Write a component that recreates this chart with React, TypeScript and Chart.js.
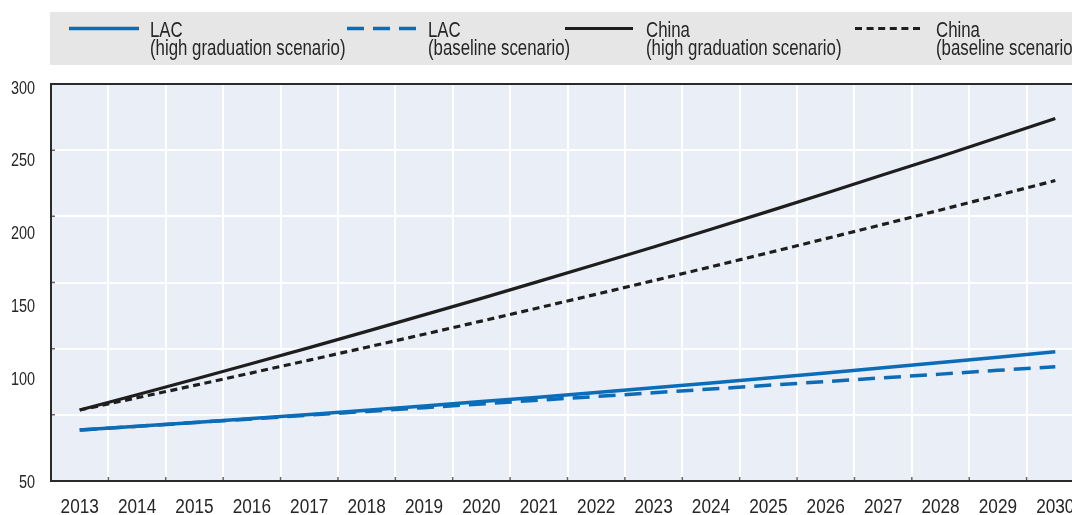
import React, { useEffect, useRef } from "react";
import { Chart, registerables } from "chart.js";

Chart.register(...registerables);

// ---------- data ----------
const years = [
  "2013", "2014", "2015", "2016", "2017", "2018", "2019", "2020", "2021",
  "2022", "2023", "2024", "2025", "2026", "2027", "2028", "2029", "2030",
];

const lacHigh = [
  82.1, 84.5, 86.9, 89.4, 91.9, 94.5, 97.2, 100.0, 102.8,
  105.7, 108.7, 111.7, 114.8, 118.0, 121.3, 124.6, 128.0, 131.4,
];
const lacBaseline = [
  82.1, 84.4, 86.8, 89.1, 91.5, 93.8, 96.2, 98.5, 100.9,
  103.2, 105.6, 107.9, 110.3, 112.6, 115.0, 117.3, 119.7, 122.0,
];
const chinaHigh = [
  94.7, 104.3, 114.1, 124.0, 134.0, 144.2, 154.6, 165.0, 175.7,
  186.5, 197.4, 208.5, 219.8, 231.2, 242.8, 254.4, 266.3, 278.3,
];
const chinaBaseline = [
  94.7, 102.4, 110.2, 118.1, 126.1, 134.2, 142.4, 150.7, 159.1,
  167.6, 176.2, 184.9, 193.7, 202.6, 211.6, 220.7, 229.9, 239.2,
];

const seriesNames = ["LAC", "LAC", "China", "China"];
const seriesScenarios = [
  "(high graduation scenario)",
  "(baseline scenario)",
  "(high graduation scenario)",
  "(baseline scenario)",
];

// y axis: gridline values and (as printed) tick label values
const yGridValues = [50, 91.67, 133.33, 175, 216.67, 258.33, 300];
const yTickTexts = ["50", "100", "150", "200", "250", "300"];
const yTickValues = [50, 114.9, 160.8, 206.8, 252.5, 298.1];

// ---------- styles ----------
const FONT = "'Liberation Sans', Arial, sans-serif";
const BLUE = "#0B6CB8";
const BLACK = "#1E1E1E";
const PLOT_BG = "#E9EEF7";
const LEGEND_BG = "#E6E6E6";
const TEXT = "#262626";

// narrow text: regular sans drawn with a horizontal squeeze
function narrowText(ctx: any, text: string, x: number, y: number, size: number, sx: number, align: string) {
  ctx.save();
  ctx.font = `${size}px ${FONT}`;
  ctx.fillStyle = TEXT;
  ctx.textAlign = align;
  ctx.textBaseline = "alphabetic";
  ctx.translate(x, y);
  ctx.scale(sx, 1);
  ctx.fillText(text, 0, 0);
  ctx.restore();
}

const frameAndBgPlugin = {
  id: "frameAndBg",
  beforeDraw(chart: any) {
    const { ctx, chartArea: a } = chart;
    ctx.save();
    ctx.fillStyle = PLOT_BG;
    ctx.fillRect(a.left, a.top, a.right - a.left, a.bottom - a.top);
    ctx.restore();
  },
  afterDraw(chart: any, _args: any, opts: any) {
    const { ctx, chartArea: a } = chart;
    const xs = chart.scales.x;
    const ys = chart.scales.y;
    ctx.save();
    // inward tick marks
    ctx.strokeStyle = "#666";
    ctx.lineWidth = 1.5;
    ctx.beginPath();
    for (let i = 0; i <= years.length; i++) {
      const px = xs.getPixelForValue(i - 0.5);
      ctx.moveTo(px, a.bottom);
      ctx.lineTo(px, a.bottom - 4);
    }
    yGridValues.forEach((v) => {
      const py = ys.getPixelForValue(v);
      ctx.moveTo(a.left, py);
      ctx.lineTo(a.left + 4, py);
    });
    ctx.stroke();
    // frame
    ctx.strokeStyle = "#2A2A2A";
    ctx.lineWidth = 2;
    ctx.strokeRect(a.left, a.top, a.right - a.left, a.bottom - a.top);
    ctx.restore();

    // axis labels
    years.forEach((t, i) => {
      narrowText(ctx, t, xs.getPixelForValue(i), opts.xLabelBaseline, opts.xSize, opts.xScale, "center");
    });
    yTickTexts.forEach((t, i) => {
      narrowText(ctx, t, a.left - opts.yLabelGap, ys.getPixelForValue(yTickValues[i]) + opts.yCapHalf, opts.ySize, opts.yScale, "right");
    });
  },
};

const legendPlugin = {
  id: "boxLegend",
  afterDraw(chart: any, _args: any, opts: any) {
    const { ctx } = chart;
    ctx.save();
    ctx.fillStyle = LEGEND_BG;
    ctx.fillRect(opts.left, opts.top, chart.width - opts.left, opts.height);
    chart.data.datasets.forEach((ds: any, i: number) => {
      const x0 = opts.itemX[i];
      const len = opts.sampleLen[i];
      ctx.strokeStyle = ds.borderColor;
      ctx.lineWidth = ds.borderWidth;
      ctx.setLineDash(ds.borderDash || []);
      ctx.beginPath();
      ctx.moveTo(x0, opts.sampleY);
      ctx.lineTo(x0 + len, opts.sampleY);
      ctx.stroke();
      ctx.setLineDash([]);
      narrowText(ctx, seriesNames[i], x0 + opts.textGap, opts.line1Baseline, opts.fontSize, opts.sx, "left");
      narrowText(ctx, seriesScenarios[i], x0 + opts.textGap, opts.line2Baseline, opts.fontSize, opts.sx, "left");
    });
    ctx.restore();
  },
};

export default function App() {
  const ref = useRef<HTMLCanvasElement | null>(null);

  useEffect(() => {
    if (!ref.current) return;

    const chart = new Chart(ref.current, {
      type: "line",
      data: {
        labels: years,
        datasets: [
          { label: "LAC (high graduation scenario)", data: lacHigh, borderColor: BLUE, borderWidth: 3.5, borderDash: [], pointRadius: 0, tension: 0 },
          { label: "LAC (baseline scenario)", data: lacBaseline, borderColor: BLUE, borderWidth: 3.5, borderDash: [17, 9], pointRadius: 0, tension: 0 },
          { label: "China (high graduation scenario)", data: chinaHigh, borderColor: BLACK, borderWidth: 3.2, borderDash: [], pointRadius: 0, tension: 0 },
          { label: "China (baseline scenario)", data: chinaBaseline, borderColor: BLACK, borderWidth: 3.2, borderDash: [7, 4.6], pointRadius: 0, tension: 0 },
        ],
      },
      options: {
        responsive: false,
        animation: false,
        devicePixelRatio: 1,
        layout: { padding: { top: 84, left: 0, right: 16, bottom: 0 } },
        plugins: {
          legend: { display: false },
          tooltip: { enabled: false },
          frameAndBg: {
            xLabelBaseline: 513,
            xSize: 20,
            xScale: 0.86,
            yLabelGap: 16,
            yCapHalf: 6.6,
            ySize: 18.5,
            yScale: 0.78,
          },
          boxLegend: {
            left: 50, top: 12, height: 53,
            itemX: [69, 347, 565, 855],
            sampleLen: [70, 69, 68, 65],
            sampleY: 28.5,
            textGap: 81,
            line1Baseline: 36.5,
            line2Baseline: 54.5,
            fontSize: 22,
            sx: 0.765,
          },
        } as any,
        scales: {
          x: {
            type: "category",
            offset: true,
            grid: { offset: true, color: "#FFFFFF", lineWidth: 2, drawTicks: false },
            border: { display: false },
            ticks: { display: false },
            afterFit: (axis: any) => { axis.height = 34; },
          },
          y: {
            type: "linear",
            min: 50,
            max: 300,
            afterBuildTicks: (axis: any) => { axis.ticks = yGridValues.map((v) => ({ value: v })); },
            grid: { color: "#FFFFFF", lineWidth: 2, drawTicks: false },
            border: { display: false },
            ticks: { display: false },
            afterFit: (axis: any) => { axis.width = 51; },
          },
        },
      },
      plugins: [frameAndBgPlugin, legendPlugin],
    });
    return () => chart.destroy();
  }, []);

  return (
    <div style={{ position: "fixed", left: 0, top: 0, width: 1072, height: 515, overflow: "hidden", background: "#fff" }}>
      <canvas ref={ref} width={1100} height={515} style={{ display: "block" }} />
    </div>
  );
}
